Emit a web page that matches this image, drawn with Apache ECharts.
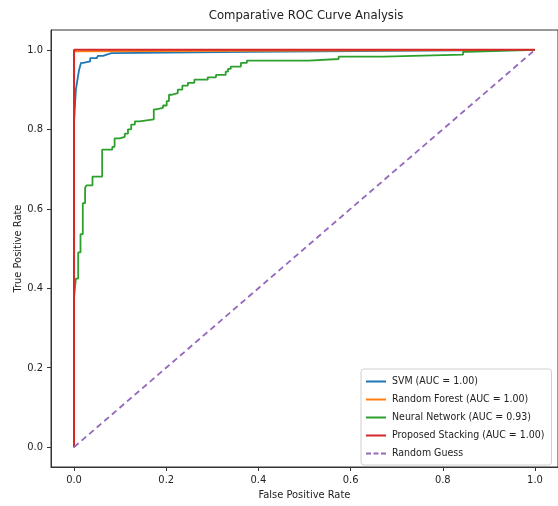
<!DOCTYPE html>
<html>
<head>
<meta charset="utf-8">
<script src="https://cdn.jsdelivr.net/npm/echarts@6/dist/echarts.min.js"></script>
<style>
html,body{margin:0;padding:0;background:#fff;}
#chart{width:558px;height:506px;}
</style>
</head>
<body>
<div id="chart"></div>
<script>
// ---- Data ----
const seriesNames = ['SVM (AUC = 1.00)', 'Random Forest (AUC = 1.00)', 'Neural Network (AUC = 0.93)', 'Proposed Stacking (AUC = 1.00)', 'Random Guess'];
const tickValues = [0, 0.2, 0.4, 0.6, 0.8, 1.0];

const svmFpr = [0, 0, 0.004, 0.004, 0.008, 0.008, 0.011, 0.011, 0.015, 0.015, 0.02, 0.02, 0.035, 0.035, 0.049, 0.049, 0.052, 0.052, 0.063, 0.063, 0.074, 0.074, 0.081, 0.081, 0.38, 0.38, 1];
const svmTpr = [0, 0.82, 0.82, 0.90, 0.90, 0.929, 0.929, 0.95, 0.95, 0.967, 0.967, 0.971, 0.971, 0.979, 0.979, 0.982, 0.982, 0.985, 0.985, 0.989, 0.989, 0.992, 0.992, 0.995, 0.995, 1, 1];

const rfFpr = [0, 0, 0.004, 1];
const rfTpr = [0, 0.996, 1, 1];

const nnFpr = [0, 0, 0.004, 0.004, 0.009, 0.009, 0.014, 0.014, 0.019, 0.019, 0.024, 0.024, 0.027, 0.027, 0.04, 0.04, 0.061, 0.061, 0.083, 0.083, 0.088, 0.088, 0.099, 0.099, 0.11, 0.11, 0.117, 0.117, 0.124, 0.124, 0.132, 0.132, 0.142, 0.142, 0.173, 0.173, 0.178, 0.178, 0.193, 0.193, 0.201, 0.201, 0.206, 0.206, 0.211, 0.211, 0.225, 0.225, 0.235, 0.235, 0.247, 0.247, 0.261, 0.261, 0.29, 0.29, 0.308, 0.308, 0.329, 0.329, 0.334, 0.334, 0.34, 0.34, 0.362, 0.362, 0.375, 0.375, 0.509, 0.509, 0.574, 0.574, 0.671, 0.671, 0.844, 0.844, 0.854, 0.854, 1];
const nnTpr = [0, 0.378, 0.378, 0.424, 0.424, 0.49, 0.49, 0.536, 0.536, 0.614, 0.614, 0.653, 0.653, 0.659, 0.659, 0.681, 0.681, 0.749, 0.749, 0.756, 0.756, 0.777, 0.777, 0.781, 0.781, 0.789, 0.789, 0.80, 0.80, 0.812, 0.812, 0.82, 0.82, 0.825, 0.825, 0.85, 0.85, 0.854, 0.854, 0.86, 0.86, 0.871, 0.871, 0.887, 0.887, 0.891, 0.891, 0.90, 0.90, 0.91, 0.91, 0.917, 0.917, 0.925, 0.925, 0.931, 0.931, 0.937, 0.937, 0.945, 0.945, 0.952, 0.952, 0.958, 0.958, 0.967, 0.967, 0.973, 0.973, 0.977, 0.977, 0.983, 0.983, 0.988, 0.988, 0.995, 0.995, 1, 1];

const stackFpr = [0, 0, 1];
const stackTpr = [0, 1, 1];

const guessFpr = [0, 1];
const guessTpr = [0, 1];

const colors = ['#1f77b4', '#ff7f0e', '#2ca02c', '#d62728', '#9467bd'];

function zip(a, b) { return a.map((v, i) => [v, b[i]]); }

const FONT = "'Liberation Sans Narrow', 'DejaVu Sans Condensed', 'Liberation Sans', sans-serif";
const LINE_ICON = 'path://M0,0H20V2H0Z';
const DASH_ICON = 'path://M0,0H5V2H0Z M7.5,0H12.5V2H7.5Z M15,0H20V2H15Z';

const chart = echarts.init(document.getElementById('chart'), null, {renderer: 'canvas'});

const seriesData = [
  zip(svmFpr, svmTpr),
  zip(rfFpr, rfTpr),
  zip(nnFpr, nnTpr),
  zip(stackFpr, stackTpr),
  zip(guessFpr, guessTpr)
];

const option = {
  animation: false,
  backgroundColor: '#fff',
  textStyle: {fontFamily: FONT},
  title: {
    text: 'Comparative ROC Curve Analysis',
    left: 301,
    top: 4,
    textAlign: 'center',
    textStyle: {fontFamily: FONT, fontSize: 13, fontWeight: 'normal', color: '#222'}
  },
  grid: {
    left: 51, top: 30, width: 510, height: 439,
    show: true, borderColor: '#333', borderWidth: 1, backgroundColor: 'transparent'
  },
  legend: {
    orient: 'vertical',
    left: 361, top: 369,
    itemWidth: 20, itemHeight: 2, itemGap: 7,
    padding: [7, 7, 6, 5],
    backgroundColor: '#fff',
    borderColor: '#d0d0d0', borderWidth: 1, borderRadius: 3,
    textStyle: {fontFamily: FONT, fontSize: 10.5, color: '#222', padding: [0, 0, 0, 1]},
    data: seriesNames.map((n, i) => ({name: n, icon: i === 4 ? DASH_ICON : LINE_ICON}))
  },
  xAxis: {
    type: 'value', min: -0.05, max: 1.05,
    name: 'False Positive Rate', nameLocation: 'middle', nameGap: 23, nameMoveOverlap: false,
    nameTextStyle: {fontFamily: FONT, fontSize: 11, color: '#222'},
    axisLine: {show: true, onZero: false, lineStyle: {color: '#333', width: 1}},
    axisTick: {show: true, length: 4, customValues: tickValues, lineStyle: {color: '#333'}},
    axisLabel: {customValues: tickValues, margin: 8, fontFamily: FONT, fontSize: 11, color: '#222', formatter: v => v.toFixed(1)},
    splitLine: {show: false}
  },
  yAxis: {
    type: 'value', min: -0.05, max: 1.05,
    name: 'True Positive Rate', nameLocation: 'middle', nameGap: 27, nameMoveOverlap: false,
    nameTextStyle: {fontFamily: FONT, fontSize: 11, color: '#222'},
    axisLine: {show: true, onZero: false, lineStyle: {color: '#333', width: 1}},
    axisTick: {show: true, length: 4, customValues: tickValues, lineStyle: {color: '#333'}},
    axisLabel: {customValues: tickValues, margin: 8, fontFamily: FONT, fontSize: 11, color: '#222', formatter: v => v.toFixed(1)},
    splitLine: {show: false}
  },
  series: seriesNames.map((name, i) => ({
    name: name,
    type: 'line',
    data: seriesData[i],
    symbol: 'none',
    showSymbol: false,
    color: colors[i],
    lineStyle: {color: colors[i], width: i === 3 ? 2 : 1.8, type: i === 4 ? [6, 4] : 'solid'},
    itemStyle: {color: colors[i]},
    z: 2 + i
  }))
};

chart.setOption(option);
</script>
</body>
</html>
